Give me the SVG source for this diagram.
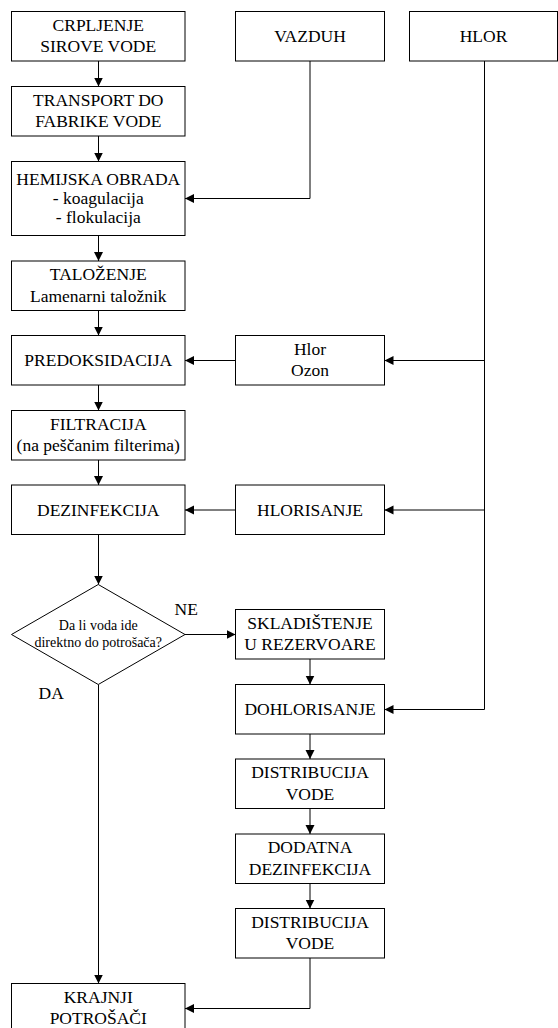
<svg xmlns="http://www.w3.org/2000/svg" width="558" height="1028" viewBox="0 0 558 1028">
<style>
.box{fill:#fff;stroke:#000;stroke-width:1}
.t{font-family:"Liberation Serif","Times New Roman",serif;font-size:17.5px;fill:#000;text-anchor:middle}
.s{font-family:"Liberation Serif","Times New Roman",serif;font-size:14px;fill:#000;text-anchor:middle}
.lbl{font-family:"Liberation Serif","Times New Roman",serif;font-size:17.5px;fill:#000}
.c{fill:none;stroke:#000;stroke-width:1}
</style>
<defs>
<marker id="ah" markerUnits="userSpaceOnUse" markerWidth="10" markerHeight="10" refX="9" refY="4.5" orient="auto">
<path d="M0,0 L9,4.5 L0,9 z" fill="#000"/>
</marker>
</defs>
<rect width="558" height="1028" fill="#fff"/>
<g id="connectors">
<path class="c" d="M98.5,61 V86.5" marker-end="url(#ah)"/>
<path class="c" d="M98.5,136 V161.5" marker-end="url(#ah)"/>
<path class="c" d="M98.5,235.5 V261" marker-end="url(#ah)"/>
<path class="c" d="M98.5,310.5 V335.5" marker-end="url(#ah)"/>
<path class="c" d="M98.5,385 V410.5" marker-end="url(#ah)"/>
<path class="c" d="M98.5,460 V485" marker-end="url(#ah)"/>
<path class="c" d="M98.5,534.5 V584.5" marker-end="url(#ah)"/>
<path class="c" d="M98.5,684.5 V983.5" marker-end="url(#ah)"/>
<path class="c" d="M310,61 V198.5 H185" marker-end="url(#ah)"/>
<path class="c" d="M484.5,61 V709.5 H384.5" marker-end="url(#ah)"/>
<path class="c" d="M484.5,360.5 H384.5" marker-end="url(#ah)"/>
<path class="c" d="M484.5,510 H384.5" marker-end="url(#ah)"/>
<path class="c" d="M235.5,360.5 H185" marker-end="url(#ah)"/>
<path class="c" d="M235.5,510 H185" marker-end="url(#ah)"/>
<path class="c" d="M185,634.5 H235.5" marker-end="url(#ah)"/>
<path class="c" d="M310,659 V684.5" marker-end="url(#ah)"/>
<path class="c" d="M310,734 V759" marker-end="url(#ah)"/>
<path class="c" d="M310,808.5 V834" marker-end="url(#ah)"/>
<path class="c" d="M310,883.5 V908.5" marker-end="url(#ah)"/>
<path class="c" d="M310,958 V1008.5 H185" marker-end="url(#ah)"/>
<text class="lbl" x="174.5" y="614.5">NE</text>
<text class="lbl" x="38.5" y="699">DA</text>
</g>
<g id="crpljenje"><rect class="box" x="11.5" y="11.5" width="173.5" height="49.5"/><text class="t" x="98.25" y="30.75">CRPLJENJE</text><text class="t" x="98.25" y="52.25">SIROVE VODE</text></g>
<g id="transport"><rect class="box" x="11.5" y="86.5" width="173.5" height="49.5"/><text class="t" x="98.25" y="105.75">TRANSPORT DO</text><text class="t" x="98.25" y="127.25">FABRIKE VODE</text></g>
<g id="hemijska"><rect class="box" x="11.5" y="161.5" width="173.5" height="74"/><text class="t" x="98.25" y="184.5">HEMIJSKA OBRADA</text><text class="t" x="98.25" y="203.5">- koagulacija</text><text class="t" x="98.25" y="222.5">- flokulacija</text></g>
<g id="talozenje"><rect class="box" x="11.5" y="261" width="173.5" height="49.5"/><text class="t" x="98.25" y="280.25">TALOŽENJE</text><text class="t" x="98.25" y="301.75">Lamenarni taložnik</text></g>
<g id="predoksidacija"><rect class="box" x="11.5" y="335.5" width="173.5" height="49.5"/><text class="t" x="98.25" y="366.25">PREDOKSIDACIJA</text></g>
<g id="filtracija"><rect class="box" x="11.5" y="410.5" width="173.5" height="49.5"/><text class="t" x="98.25" y="429.75">FILTRACIJA</text><text class="t" x="98.25" y="451.25">(na peščanim filterima)</text></g>
<g id="dezinfekcija"><rect class="box" x="11.5" y="485" width="173.5" height="49.5"/><text class="t" x="98.25" y="515.75">DEZINFEKCIJA</text></g>
<g id="odluka"><polygon class="box" points="98.25,584.5 185,634.5 98.25,684.5 11.5,634.5"/><text class="s" x="98.25" y="629.5">Da li voda ide</text><text class="s" x="98.25" y="647">direktno do potrošača?</text></g>
<g id="krajnji"><rect class="box" x="11.5" y="983.5" width="173.5" height="49.5"/><text class="t" x="98.25" y="1002.75">KRAJNJI</text><text class="t" x="98.25" y="1024.25">POTROŠAČI</text></g>
<g id="vazduh"><rect class="box" x="235.5" y="11.5" width="149" height="49.5"/><text class="t" x="310" y="42.25">VAZDUH</text></g>
<g id="hlor"><rect class="box" x="409.5" y="11.5" width="148" height="49.5"/><text class="t" x="483.5" y="42.25">HLOR</text></g>
<g id="hlor-ozon"><rect class="box" x="235.5" y="335.5" width="149" height="49.5"/><text class="t" x="310" y="354.75">Hlor</text><text class="t" x="310" y="376.25">Ozon</text></g>
<g id="hlorisanje"><rect class="box" x="235.5" y="485" width="149" height="49.5"/><text class="t" x="310" y="515.75">HLORISANJE</text></g>
<g id="skladistenje"><rect class="box" x="235.5" y="609.5" width="149" height="49.5"/><text class="t" x="310" y="628.75">SKLADIŠTENJE</text><text class="t" x="310" y="650.25">U REZERVOARE</text></g>
<g id="dohlorisanje"><rect class="box" x="235.5" y="684.5" width="149" height="49.5"/><text class="t" x="310" y="715.25">DOHLORISANJE</text></g>
<g id="distribucija1"><rect class="box" x="235.5" y="759" width="149" height="49.5"/><text class="t" x="310" y="778.25">DISTRIBUCIJA</text><text class="t" x="310" y="799.75">VODE</text></g>
<g id="dodatna"><rect class="box" x="235.5" y="834" width="149" height="49.5"/><text class="t" x="310" y="853.25">DODATNA</text><text class="t" x="310" y="874.75">DEZINFEKCIJA</text></g>
<g id="distribucija2"><rect class="box" x="235.5" y="908.5" width="149" height="49.5"/><text class="t" x="310" y="927.75">DISTRIBUCIJA</text><text class="t" x="310" y="949.25">VODE</text></g>
</svg>
